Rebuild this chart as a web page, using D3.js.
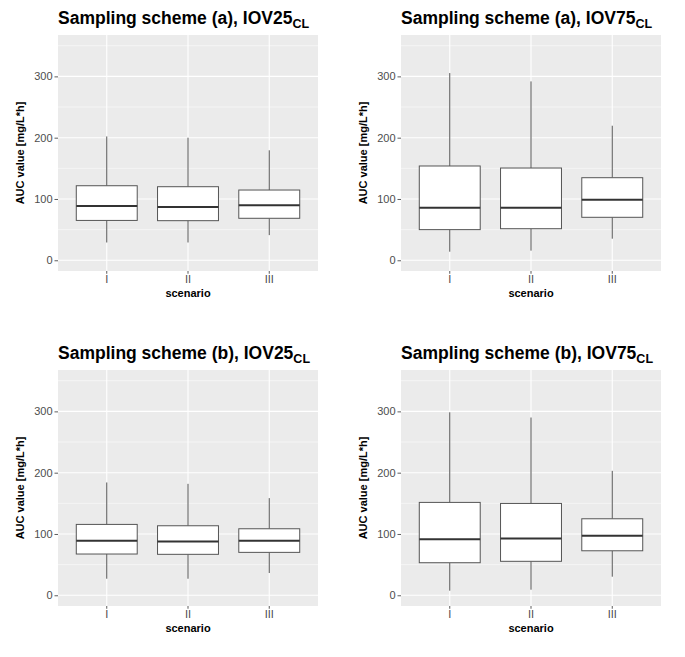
<!DOCTYPE html>
<html>
<head>
<meta charset="utf-8">
<script src="https://cdn.jsdelivr.net/npm/d3@7"></script>
<style>
  body { margin: 0; background: #fff; }
  text { font-family: "Liberation Sans", Arial, sans-serif; }
</style>
</head>
<body>
<svg id="chart" width="685" height="657"></svg>
<script>
//-------- data --------
var scenarios = ['I', 'II', 'III'];
var yTicks = [0, 100, 200, 300];
var yMinorTicks = [50, 150, 250, 350];

// each row: [whisker low, q1, median, q3, whisker high]
var schemeA_IOV25 = [[29, 65, 88.5, 121.6, 202], [29, 64.6, 87, 120, 200], [41, 68.5, 89.7, 114.6, 179.4]];
var schemeA_IOV75 = [[14, 50, 85.8, 153.8, 305.4], [15.7, 51.5, 85.8, 150.5, 291.8], [35.2, 70.1, 98.8, 134.7, 219.5]];
var schemeB_IOV25 = [[27, 67.3, 88.9, 115.6, 184], [27, 66.8, 87.9, 113.4, 181.8], [36.3, 70, 88.9, 108.5, 158.5]];
var schemeB_IOV75 = [[7.5, 53.1, 91.2, 151.5, 298.5], [9.1, 55.4, 92.8, 149.8, 290], [30.3, 72.6, 97.1, 124.8, 203]];

var panelTitles = ['Sampling scheme (a), IOV25', 'Sampling scheme (a), IOV75', 'Sampling scheme (b), IOV25', 'Sampling scheme (b), IOV75'];
var panelData = [schemeA_IOV25, schemeA_IOV75, schemeB_IOV25, schemeB_IOV75];

//-------- layout --------
var plotW = 260, plotH = 236;
var offsets = [[58, 35], [401, 35], [58, 370], [401, 370]];

var svg = d3.select('#chart');

// discrete axis: 0.6 of a step of expansion on each side, like ggplot
var x = d3.scaleBand().domain(scenarios).range([0, plotW]).paddingOuter(0.1).paddingInner(0);
var y = d3.scaleLinear().domain([-17.5, 367.5]).range([plotH, 0]);
var boxW = x.bandwidth() * 0.75;

panelData.forEach(function(data, p) {
  var g = svg.append('g').attr('transform', 'translate(' + offsets[p][0] + ',' + offsets[p][1] + ')');

  // panel background and grid
  g.append('rect').attr('width', plotW).attr('height', plotH).attr('fill', '#ebebeb');
  g.selectAll('.minor').data(yMinorTicks).enter().append('line')
    .attr('x1', 0).attr('x2', plotW)
    .attr('y1', function(d) { return y(d); }).attr('y2', function(d) { return y(d); })
    .attr('stroke', '#fff').attr('stroke-width', 0.5);
  g.selectAll('.major').data(yTicks).enter().append('line')
    .attr('x1', 0).attr('x2', plotW)
    .attr('y1', function(d) { return y(d); }).attr('y2', function(d) { return y(d); })
    .attr('stroke', '#fff').attr('stroke-width', 1.1);
  g.selectAll('.vgrid').data(scenarios).enter().append('line')
    .attr('x1', function(d) { return x(d) + x.bandwidth() / 2; }).attr('x2', function(d) { return x(d) + x.bandwidth() / 2; })
    .attr('y1', 0).attr('y2', plotH)
    .attr('stroke', '#fff').attr('stroke-width', 1.1);

  // axes
  var yAxis = g.append('g').call(d3.axisLeft(y).tickValues(yTicks).tickSize(3.5).tickPadding(2));
  var xAxis = g.append('g').attr('transform', 'translate(0,' + plotH + ')')
    .call(d3.axisBottom(x).tickSize(2.75).tickPadding(1.5));
  [yAxis, xAxis].forEach(function(ax) {
    ax.select('.domain').remove();
    ax.selectAll('line').attr('stroke', '#333').attr('stroke-width', 0.8);
    ax.selectAll('text').attr('fill', '#4d4d4d').style('font-size', '11px').style('font-family', '"Liberation Sans", Arial, sans-serif');
  });

  // boxes
  var box = g.selectAll('.box').data(data).enter().append('g')
    .attr('transform', function(d, i) { return 'translate(' + (x(scenarios[i]) + x.bandwidth() / 2) + ',0)'; });
  box.append('line').attr('x1', 0).attr('x2', 0)
    .attr('y1', function(d) { return y(d[0]); }).attr('y2', function(d) { return y(d[1]); })
    .attr('stroke', '#555').attr('stroke-width', 1);
  box.append('line').attr('x1', 0).attr('x2', 0)
    .attr('y1', function(d) { return y(d[3]); }).attr('y2', function(d) { return y(d[4]); })
    .attr('stroke', '#555').attr('stroke-width', 1);
  box.append('rect').attr('x', -boxW / 2).attr('width', boxW)
    .attr('y', function(d) { return y(d[3]); }).attr('height', function(d) { return y(d[1]) - y(d[3]); })
    .attr('fill', '#fff').attr('stroke', '#555').attr('stroke-width', 1);
  box.append('line').attr('x1', -boxW / 2).attr('x2', boxW / 2)
    .attr('y1', function(d) { return y(d[2]); }).attr('y2', function(d) { return y(d[2]); })
    .attr('stroke', '#333').attr('stroke-width', 2);

  // titles
  var title = g.append('text').attr('x', 0).attr('y', -11)
    .style('font-size', '17.5px').style('font-weight', 'bold').attr('fill', '#000');
  title.append('tspan').text(panelTitles[p]);
  title.append('tspan').attr('dy', 4).style('font-size', '12.5px').text('CL');

  g.append('text').attr('transform', 'translate(' + (-34) + ',' + (plotH / 2) + ') rotate(-90)')
    .attr('text-anchor', 'middle').style('font-size', '11px').style('font-weight', 'bold')
    .text('AUC value [mg/L*h]');
  g.append('text').attr('x', plotW / 2).attr('y', plotH + 26)
    .attr('text-anchor', 'middle').style('font-size', '11px').style('font-weight', 'bold')
    .text('scenario');
});
</script>
</body>
</html>
